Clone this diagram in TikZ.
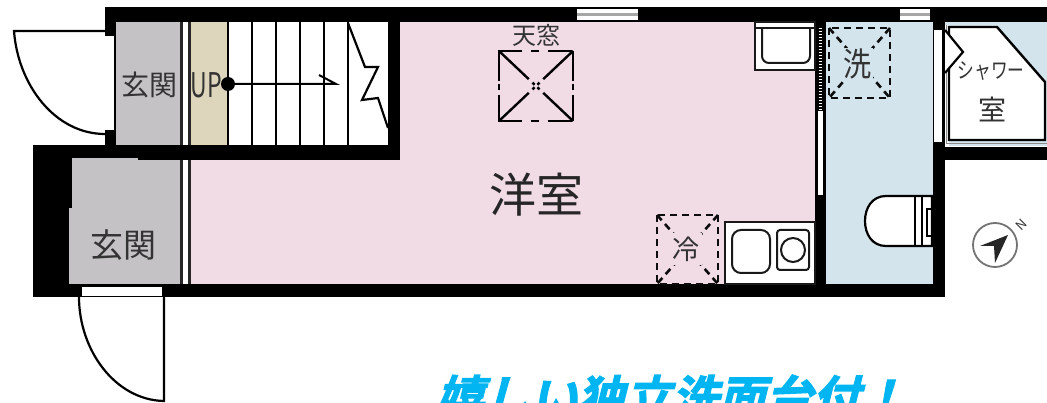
\documentclass[tikz,border=0pt]{standalone}
\usepackage{fontspec}
\setmainfont{Noto Sans CJK JP}
\newfontfamily\adfont[FakeSlant=0.25,FakeBold=2.5]{Noto Sans CJK JP Bold}
\definecolor{roompink}{HTML}{F1DCE5}
\definecolor{bathblue}{HTML}{D3E4EC}
\definecolor{hallgray}{HTML}{C4C2C4}
\definecolor{landing}{HTML}{DDD5BC}
\definecolor{adblue}{HTML}{00B5F1}
\definecolor{inktext}{HTML}{333333}
\tikzset{
  wallfill/.style={fill=black,draw=none},
  fixture/.style={draw=black!90,line width=2pt,fill=white},
  thin line/.style={draw=black,line width=2.2pt},
  dash box/.style={draw=black!95,line width=2.6pt,dash pattern=on 7pt off 5pt},
  label/.style={inner sep=0pt,text=inktext},
}
\begin{document}
\begin{tikzpicture}[x=1pt,y=-1pt]
\useasboundingbox (0,0) rectangle (1047,403);
\clip (0,0) rectangle (1047,403);
% floors
\fill[roompink] (190,22) rectangle (816,285);
\fill[bathblue] (825,22) rectangle (934,285);
\fill[bathblue] (943,20) rectangle (1047,146);
\fill[hallgray] (116,22) rectangle (181,146);
\fill[white] (181,22) rectangle (190,146);
\fill[landing] (190,22) rectangle (228,146);
\fill[white] (228,22) rectangle (389,146);
\fill[hallgray] (69,157) rectangle (181,285);
\fill[white] (181,157) rectangle (190,285);
% partitions
\fill[black!85] (180,22) rectangle (183,285);
\fill[black!85] (188,22) rectangle (191,285);
% walls
\fill[wallfill] (105,7) rectangle (1047,22);
\fill[wallfill] (105,7) rectangle (116,148);
\fill[wallfill] (33,145) rectangle (400,158);
\fill[wallfill] (138,148) rectangle (400,160);
\fill[wallfill] (388,22) rectangle (400,160);
\fill[wallfill] (33,145) rectangle (69,297);
\fill[wallfill] (69,145) rectangle (72,208);
\fill[wallfill] (33,284) rectangle (945,297);
\fill[wallfill] (815,22) rectangle (826,297);
\fill[wallfill] (933,20) rectangle (945,297);
\fill[wallfill] (933,147) rectangle (1047,160);
% openings
\fill[white] (105,36) rectangle (114,130);
\fill[white] (82,287) rectangle (162,296);
\fill[white] (817.5,111) rectangle (822.5,195);
\foreach \y in {28,31,...,109} \fill[white] (818.5,\y) rectangle (821.5,\y+1.5);
\fill[white] (934,30) rectangle (942,142);
% windows
\foreach \a/\b in {577/638,900/930}{
  \fill[white] (\a,9) rectangle (\b,20);
  \fill[black!35] (\a,13) rectangle (\b,16);
}
% doors
\draw[thin line] (105,31) -- (14,31) .. controls (18,85) and (55,134) .. (105,134);
\draw[thin line] (79,297) .. controls (79,350) and (115,400) .. (164,401) -- (164,297);
% stairs
\foreach \x in {228,252,276,300,324,348} \draw[black,line width=2.5pt] (\x,22) -- (\x,146);
\draw[thin line,fill=white] (348,23) -- (365,67) -- (378,67) -- (362,100) -- (378,98) -- (388,128);
\coordinate (stairend) at (336,84);
\node[circle,fill=black,minimum size=14pt,inner sep=0pt] (stairdot) at (228,84) {};
\draw[black,line width=2pt] (stairdot) -- (stairend) -- (319,75);
\node[label,font=\fontsize{28}{28}\selectfont] (hallA) at (149,85) {玄関};
\node[label,xscale=.68,font=\fontsize{34}{34}\selectfont] (uplabel) at (206,85) {UP};
\node[label,font=\fontsize{33}{33}\selectfont] (hallB) at (123,245) {玄関};
% skylight
\coordinate (skyc) at (536,86);
\draw[black,line width=2.8pt,dash pattern=on 24pt off 9pt on 8pt off 9pt on 24pt] (498,51) -- (574,51);
\draw[black,line width=2.8pt,dash pattern=on 24pt off 9pt on 8pt off 9pt on 24pt] (498,121) -- (574,121);
\draw[black,line width=2.8pt,dash pattern=on 30pt off 3pt on 6pt off 5pt on 26pt] (499,51) -- (499,121);
\draw[black,line width=2.8pt,dash pattern=on 30pt off 3pt on 6pt off 5pt on 26pt] (573,51) -- (573,121);
\foreach \cx/\cy in {499/51,573/51,499/121,573/121}
  \draw[black,line width=2.4pt,dash pattern=on 41pt off 5pt on 3pt off 60pt] (\cx,\cy) -- (skyc);
\node[label,font=\fontsize{24}{24}\selectfont] (skylabel) at (536,35) {天窓};
\node[label,text=black!85,font=\fontsize{47}{47}\selectfont] (mainroom) at (536,195) {洋室};
% kitchen counter
\draw[fixture] (725,222) rectangle (815,284);
\draw[fixture,rounded corners=9pt] (732,230) rectangle (770,273);
\draw[fixture,rounded corners=3pt] (777,230) rectangle (809,270);
\draw[fixture] (793,250) circle (12);
% fridge
\draw[dash box] (657,215) rectangle (718,284);
\draw[dash box] (657,215) -- (718,284) (718,215) -- (657,284);
\fill[roompink] (672,233) rectangle (702,265);
\node[label,font=\fontsize{27}{27}\selectfont] (fridge) at (686,249) {冷};
% basin top
\draw[fixture] (755,22) rectangle (815,70);
\draw[fixture,rounded corners=7pt] (762,29) -- (762,63) -- (810,63) -- (810,29);
\draw[black!90,line width=1.6pt] (755,28) -- (815,28);
% washer
\draw[dash box] (829,28) rectangle (890,98);
\draw[dash box] (829,28) -- (890,98) (890,28) -- (829,98);
\fill[bathblue] (845,48) rectangle (873,80);
\node[label,xscale=.85,font=\fontsize{33}{33}\selectfont] (washer) at (858,64) {洗};
% toilet
\draw[thin line,fill=white] (932,196) -- (886,196) .. controls (872,196) and (865,208) .. (865,221) .. controls (865,234) and (872,246) .. (886,246) -- (932,246) -- cycle;
\draw[thin line] (915,196) -- (915,246) (922,196) -- (922,246);
\draw[thin line] (932,209) -- (927,209) -- (927,236) -- (932,236);
% shower
\fill[white] (945,25) rectangle (949,146);
\draw[black!45,line width=1pt] (946.5,25) -- (946.5,143.5) -- (1047,143.5);
\draw[fill=white,draw=black,line width=2.4pt] (949,27) -- (997,27) -- (1045,82) -- (1045,140) -- (949,140) -- cycle;
\draw[thin line,fill=white] (945,30) -- (963,52) -- (945,73);
\node[label,xscale=.76,font=\fontsize{22}{22}\selectfont] (showerA) at (991,71) {シャワー};
\node[label,font=\fontsize{28}{28}\selectfont] (showerB) at (992,109) {室};
% compass
\node[circle,draw=black!55,line width=1.8pt,minimum size=44pt,inner sep=0pt] (compass) at (995,245) {};
\fill[black!85] (1008,235) -- (980,246) -- (994,246) -- (995,263) -- cycle;
\node[label,rotate=45,font=\fontsize{13}{13}\selectfont] (north) at (1021,225) {N};
% caption
\node[inner sep=0pt,text=adblue,anchor=base west,font=\adfont\fontsize{47}{47}\selectfont] (caption) at (436,415) {嬉しい独立洗面台付！};
\end{tikzpicture}
\end{document}
